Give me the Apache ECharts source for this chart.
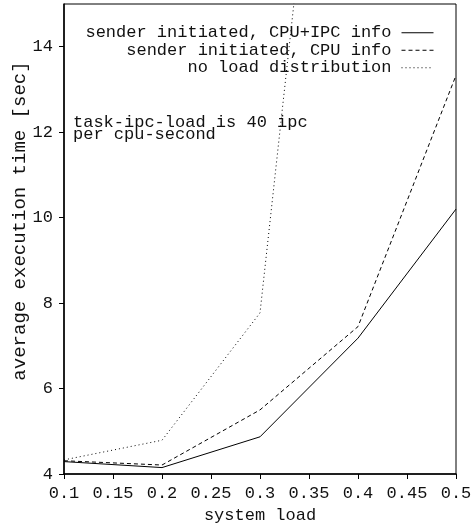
<!DOCTYPE html>
<html>
<head>
    <meta charset="utf-8">
    <title>average execution time</title>
    <script src="https://cdn.jsdelivr.net/npm/echarts@6/dist/echarts.min.js"></script>
    <style>
        html, body { margin: 0; padding: 0; background: #fff; }
    </style>
</head>
<body>
    <div id="main" style="width: 473px;height:525px;"></div>
    <script type="text/javascript">
        // data
        var loads = [0.1, 0.2, 0.3, 0.4, 0.5];
        var cpuIpcInfo = [4.29, 4.15, 4.87, 7.18, 10.2];
        var cpuInfo = [4.31, 4.21, 5.5, 7.45, 13.33];
        var noDistribution = [4.33, 4.79, 7.77, 28.7];
        var seriesNames = ['sender initiated, CPU+IPC info', 'sender initiated, CPU info', 'no load distribution'];
        var xTicks = [0.1, 0.15, 0.2, 0.25, 0.3, 0.35, 0.4, 0.45, 0.5];
        var yTicks = [4, 6, 8, 10, 12, 14];

        function pairs(xs, ys) {
            var out = [];
            for (var i = 0; i < ys.length; i++) {
                out.push([xs[i], ys[i]]);
            }
            return out;
        }

        var font = '"Liberation Mono", "DejaVu Sans Mono", monospace';
        var ink = '#111';
        var myChart = echarts.init(document.getElementById('main'));

        var option = {
            animation: false,
            textStyle: { fontFamily: font, color: ink },
            grid: {
                left: 64,
                right: 17,
                top: 4,
                bottom: 51,
                outerBoundsMode: 'none',
                show: true,
                borderColor: '#000',
                borderWidth: 1
            },
            legend: {
                data: seriesNames,
                orient: 'vertical',
                align: 'right',
                right: 34,
                top: 19,
                itemWidth: 32,
                itemHeight: 12,
                itemGap: 0,
                itemStyle: { opacity: 0 },
                lineStyle: { width: 1 },
                textStyle: { fontFamily: font, fontSize: 17, lineHeight: 17.5, color: ink, padding: [0, 5, 0, 0] }
            },
            graphic: [{
                type: 'text',
                left: 73,
                top: 114,
                style: {
                    text: 'task-ipc-load is 40 ipc\nper cpu-second',
                    font: '17px ' + font,
                    lineHeight: 12,
                    fill: ink
                }
            }, {
                type: 'text',
                x: 20,
                y: 221,
                rotation: Math.PI / 2,
                style: {
                    text: 'average execution time [sec]',
                    font: '19px ' + font,
                    fill: ink,
                    align: 'center',
                    verticalAlign: 'middle'
                }
            }],
            xAxis: {
                type: 'value',
                min: 0.1,
                max: 0.5,
                interval: 0.05,
                name: 'system load',
                nameLocation: 'middle',
                nameGap: 30,
                nameTextStyle: { fontFamily: font, fontSize: 17, color: ink },
                splitLine: { show: false },
                axisLine: { lineStyle: { color: '#000', width: 1.5 } },
                axisTick: { length: 5, customValues: xTicks, lineStyle: { color: '#000' } },
                axisLabel: {
                    customValues: xTicks,
                    margin: 11,
                    fontFamily: font,
                    fontSize: 17,
                    color: ink
                }
            },
            yAxis: {
                type: 'value',
                min: 4,
                max: 15,
                interval: 2,
                splitLine: { show: false },
                axisLine: { show: true, lineStyle: { color: '#000', width: 1.5 } },
                axisTick: { show: true, length: 5, customValues: yTicks, lineStyle: { color: '#000' } },
                axisLabel: {
                    customValues: yTicks,
                    margin: 11,
                    fontFamily: font,
                    fontSize: 17,
                    color: ink
                }
            },
            series: [{
                name: seriesNames[0],
                type: 'line',
                symbol: 'none',
                lineStyle: { color: '#000', width: 1, type: 'solid' },
                itemStyle: { color: '#000' },
                data: pairs(loads, cpuIpcInfo)
            }, {
                name: seriesNames[1],
                type: 'line',
                symbol: 'none',
                lineStyle: { color: '#000', width: 1, type: [4, 3] },
                itemStyle: { color: '#000' },
                data: pairs(loads, cpuInfo)
            }, {
                name: seriesNames[2],
                type: 'line',
                symbol: 'none',
                lineStyle: { color: '#000', width: 1, type: [1, 3] },
                itemStyle: { color: '#000' },
                data: pairs(loads, noDistribution)
            }]
        };

        myChart.setOption(option);
    </script>
</body>
</html>
